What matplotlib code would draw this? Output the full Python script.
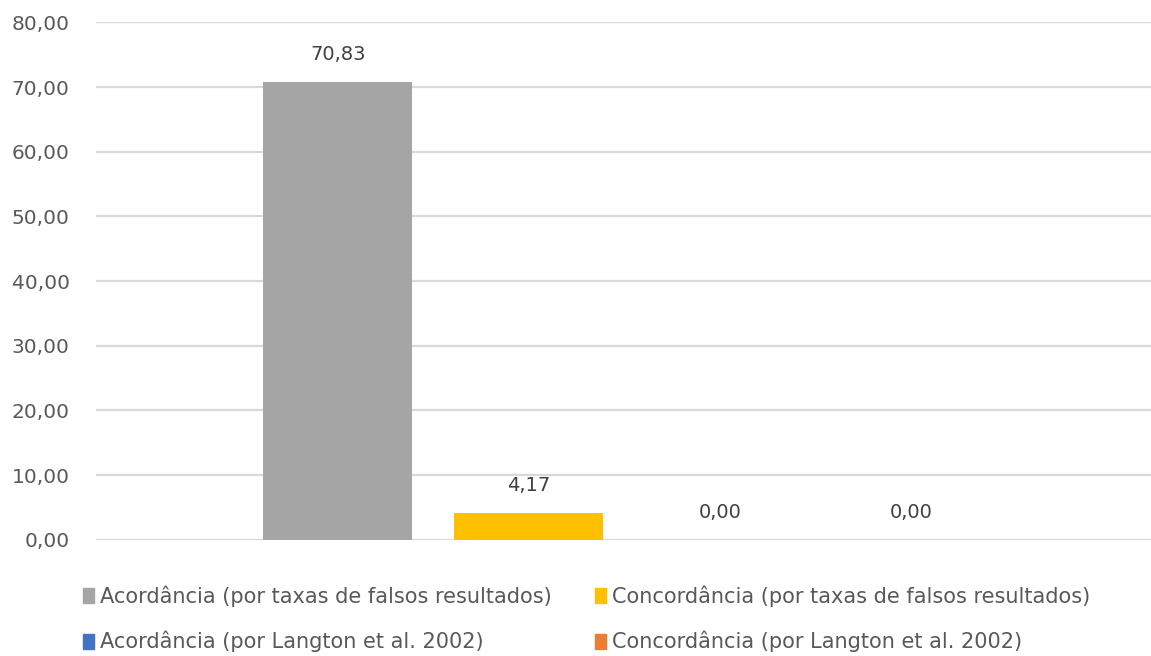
import matplotlib.pyplot as plt
import numpy as np

series = [
    "Acordância (por taxas de falsos resultados)",
    "Concordância (por taxas de falsos resultados)",
    "Acordância (por Langton et al. 2002)",
    "Concordância (por Langton et al. 2002)",
]
values = [70.83, 4.17, 0.00, 0.00]
colors = ["#A5A5A5", "#FFC000", "#4472C4", "#ED7D31"]
yticks = [0, 10, 20, 30, 40, 50, 60, 70, 80]

text_color = "#595959"

fig = plt.figure(figsize=(11.51, 6.56), dpi=100)
ax = fig.add_axes([0.0834, 0.177, 0.9166, 0.789])

x = np.arange(len(values))
width = 0.78
ax.bar(x, values, width=width, color=colors, zorder=3)

for xi, v in zip(x, values):
    ax.annotate(f"{v:.2f}".replace(".", ","), (xi, v), xytext=(0, 13),
                textcoords="offset points", ha="center", va="bottom",
                fontsize=14, color="#404040")

ax.set_xlim(-1.267, 4.257)
ax.set_ylim(0, 80)
ax.set_yticks(yticks)
ax.set_yticklabels([f"{t:.2f}".replace(".", ",") for t in yticks],
                   fontsize=14.5, color=text_color)
ax.set_xticks([])
ax.tick_params(axis="y", length=0, pad=19)
ax.grid(axis="y", color="#D9D9D9", linewidth=1.6, zorder=0)
for side in ["top", "right", "left", "bottom"]:
    ax.spines[side].set_visible(False)

# legend fills column-wise, so interleave to get the row order right
order = [0, 2, 1, 3]
handles = [plt.Rectangle((0, 0), 1, 1, color=colors[i]) for i in order]
labels = [series[i] for i in order]
fig.legend(handles, labels, loc="upper left", bbox_to_anchor=(0.056, 0.136),
           ncol=2, frameon=False, handlelength=0.5, handleheight=0.75,
           handletextpad=0.3, columnspacing=2.1, labelspacing=1.15,
           prop={"size": 15}, labelcolor=text_color)

fig.savefig("out.png", dpi=100, facecolor="white")
